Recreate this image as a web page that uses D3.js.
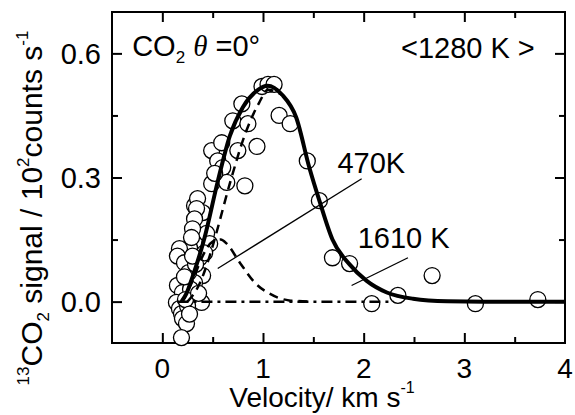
<!DOCTYPE html>
<html><head><meta charset="utf-8">
<script src="https://cdn.jsdelivr.net/npm/d3@7"></script>
<style>
body{margin:0;background:#fff}
svg{display:block}
text{font-family:"Liberation Sans",Arial,Helvetica,sans-serif;fill:#000}
</style>
</head><body>
<svg id="chart" width="575" height="415"></svg>
<script>
// ---- data ----
const xTickValues = [0, 1, 2, 3, 4];
const xMinorTicks = [-0.5, 0.5, 1.5, 2.5, 3.5];
const yTickValues = [0.0, 0.3, 0.6];
const yMinorTicks = [0.15, 0.45];

// measured points: velocity (km/s) and 13CO2 signal
const measVelocity = [0.99,1.05,1.11,0.79,0.70,0.85,1.16,1.27,0.94,0.49,0.59,0.75,0.55,0.60,0.49,0.64,0.82,0.52,
  0.32,0.40,0.27,0.44,0.37,0.47,
  1.44,1.56,1.69,1.86,2.08,2.34,2.68,3.11,3.73,
  0.35,0.34,0.32,0.30,0.29,0.17,0.15,0.22,0.42,0.40,0.15,0.20,0.32,0.39,0.14,0.17,0.19,0.20,0.24,0.19,0.25,
  0.26,0.28,0.23,0.27,0.33,0.36,0.22,0.30];
const measSignal = [0.52,0.525,0.525,0.478,0.437,0.43,0.45,0.43,0.375,0.365,0.384,0.365,0.34,0.324,0.285,0.288,0.28,0.31,
  0.232,0.215,0.13,0.165,0.106,0.14,
  0.34,0.244,0.106,0.092,-0.005,0.015,0.063,-0.005,0.005,
  0.249,0.225,0.20,0.176,0.155,0.128,0.11,0.094,0.118,0.063,0.039,0.022,0.046,-0.002,-0.002,-0.017,-0.029,-0.041,-0.053,-0.087,-0.01,
  0.07,0.03,0.005,-0.03,0.09,0.02,0.06,0.11];

// total fit (thick solid)
const fitVelocity = [0.19,0.24,0.30,0.42,0.55,0.67,0.80,0.94,1.045,1.19,1.33,1.46,1.56,1.69,1.86,2.03,2.23,2.49,2.83,3.2,4.0];
const fitSignal   = [0.0,0.02,0.06,0.155,0.29,0.40,0.47,0.51,0.522,0.50,0.445,0.324,0.244,0.15,0.09,0.05,0.022,0.007,0.001,0,0];

// fast component, 1610 K (dashed)
const fastVelocity = [0.25,0.37,0.47,0.53,0.67,0.83,0.96,1.05,1.19];
const fastSignal   = [0.0,0.043,0.11,0.16,0.285,0.41,0.48,0.512,0.50];

// slow component, 470 K (dashed)
const slowVelocity = [0.20,0.30,0.40,0.50,0.58,0.64,0.77,0.93,1.06,1.26,1.5];
const slowSignal   = [0.0,0.05,0.11,0.145,0.15,0.14,0.094,0.043,0.02,0.003,0.0];

// flat baseline component (dash-dot)
const baseVelocity = [0.15, 2.3];
const baseSignal   = [0.0, 0.0];

// annotation anchors in data units
const pointer470  = [[0.55, 0.08], [1.98, 0.297]];
const pointer1610 = [[1.88, 0.039], [2.44, 0.106]];

// ---- drawing ----
const svg = d3.select("#chart");
const pL = 112, pR = 565, pT = 12, pB = 343;
const x = d3.scaleLinear().domain([-0.5, 4]).range([pL, pR]);
const y = d3.scaleLinear().domain([-0.1, 0.7]).range([pB, pT]);

// frame
svg.append("rect").attr("x", pL).attr("y", pT).attr("width", pR-pL).attr("height", pB-pT)
  .attr("fill", "none").attr("stroke", "#000").attr("stroke-width", 2);

function tickAxis(axisGen, transform, values, size){
  const g = svg.append("g").attr("transform", transform)
    .call(axisGen.tickValues(values).tickSizeInner(size).tickSizeOuter(0).tickFormat(""));
  g.select(".domain").remove();
  g.selectAll("line").attr("stroke", "#000").attr("stroke-width", 2);
  return g;
}
// major & minor ticks (inward), all four sides
tickAxis(d3.axisBottom(x), `translate(0,${pB})`, xTickValues.filter(v=>v<4), -10);
tickAxis(d3.axisBottom(x), `translate(0,${pB})`, xMinorTicks.filter(v=>v>-0.5), -6);
tickAxis(d3.axisTop(x), `translate(0,${pT})`, xTickValues.filter(v=>v<4), -10);
tickAxis(d3.axisTop(x), `translate(0,${pT})`, xMinorTicks.filter(v=>v>-0.5), -6);
tickAxis(d3.axisLeft(y), `translate(${pL},0)`, yTickValues, -10);
tickAxis(d3.axisLeft(y), `translate(${pL},0)`, yMinorTicks, -6);
tickAxis(d3.axisRight(y), `translate(${pR},0)`, yTickValues, -10);
tickAxis(d3.axisRight(y), `translate(${pR},0)`, yMinorTicks, -6);

// tick labels
svg.append("g").selectAll("text").data(xTickValues).join("text")
  .attr("x", d => x(d)).attr("y", 378).attr("text-anchor", "middle")
  .attr("font-size", 28).text(d => d3.format("d")(d));
svg.append("g").selectAll("text").data(yTickValues).join("text")
  .attr("x", pL - 11).attr("y", d => y(d)).attr("dy", "0.35em").attr("text-anchor", "end")
  .attr("font-size", 29).text(d => d3.format(".1f")(d));

// scatter
const pts = measVelocity.map((v,i)=>({v, s: measSignal[i]}));
svg.append("g").selectAll("circle").data(pts).join("circle")
  .attr("cx", d => x(d.v)).attr("cy", d => y(d.s)).attr("r", 8)
  .attr("fill", "#fff").attr("stroke", "#000").attr("stroke-width", 1.3);

// curves
const line = d3.line().x(d=>x(d[0])).y(d=>y(d[1])).curve(d3.curveMonotoneX);
const zip = (a,b)=>a.map((v,i)=>[v,b[i]]);
svg.append("path").attr("d", line(zip(baseVelocity, baseSignal)))
  .attr("fill","none").attr("stroke","#000").attr("stroke-width",2.5).attr("stroke-dasharray","11,5,3,5");
svg.append("path").attr("d", line(zip(slowVelocity, slowSignal)))
  .attr("fill","none").attr("stroke","#000").attr("stroke-width",2.5).attr("stroke-dasharray","9,6");
svg.append("path").attr("d", line(zip(fastVelocity, fastSignal)))
  .attr("fill","none").attr("stroke","#000").attr("stroke-width",2.5).attr("stroke-dasharray","9,6");
svg.append("path").attr("d", line(zip(fitVelocity, fitSignal)))
  .attr("fill","none").attr("stroke","#000").attr("stroke-width",4).attr("stroke-linejoin","round");

// pointer lines
[pointer470, pointer1610].forEach(p=>{
  svg.append("line").attr("x1", x(p[0][0])).attr("y1", y(p[0][1])).attr("x2", x(p[1][0])).attr("y2", y(p[1][1]))
    .attr("stroke","#000").attr("stroke-width",1.3);
});

// annotations
svg.append("text").attr("x", x(1.74)).attr("y", y(0.312)).attr("font-size", 29).text("470K");
svg.append("text").attr("x", x(1.94)).attr("y", y(0.13)).attr("font-size", 29).text("1610 K");
svg.append("text").attr("x", x(3.70)).attr("y", y(0.59)).attr("text-anchor","end").attr("font-size", 29).text("<1280 K >");

const t1 = svg.append("text").attr("x", x(-0.3)).attr("y", y(0.593)).attr("font-size", 29);
t1.append("tspan").text("CO");
t1.append("tspan").attr("font-size", 17).attr("dy", 7).text("2");
t1.append("tspan").attr("dy", -7).attr("font-size", 29).text(" ");
t1.append("tspan").attr("font-family", "'Liberation Serif','Times New Roman',serif").attr("font-style","italic").text("θ");
t1.append("tspan").text(" =0°");

// axis titles
const xt = svg.append("text").attr("x", 322).attr("y", 407).attr("text-anchor","middle").attr("font-size", 28);
xt.append("tspan").text("Velocity/ km s");
xt.append("tspan").attr("font-size", 16).attr("dy", -14).text("-1");

const yt = svg.append("text").attr("transform", "translate(42,208) rotate(-90)").attr("text-anchor","middle").attr("font-size", 30);
yt.append("tspan").attr("font-size", 17).attr("dy", -13).text("13");
yt.append("tspan").attr("dy", 13).text("CO");
yt.append("tspan").attr("font-size", 17).attr("dy", 7).text("2");
yt.append("tspan").attr("dy", -7).text(" signal / 10");
yt.append("tspan").attr("font-size", 17).attr("dy", -13).text("2");
yt.append("tspan").attr("dy", 13).text("counts s");
yt.append("tspan").attr("font-size", 17).attr("dy", -14).text("-1");
</script>
</body></html>
